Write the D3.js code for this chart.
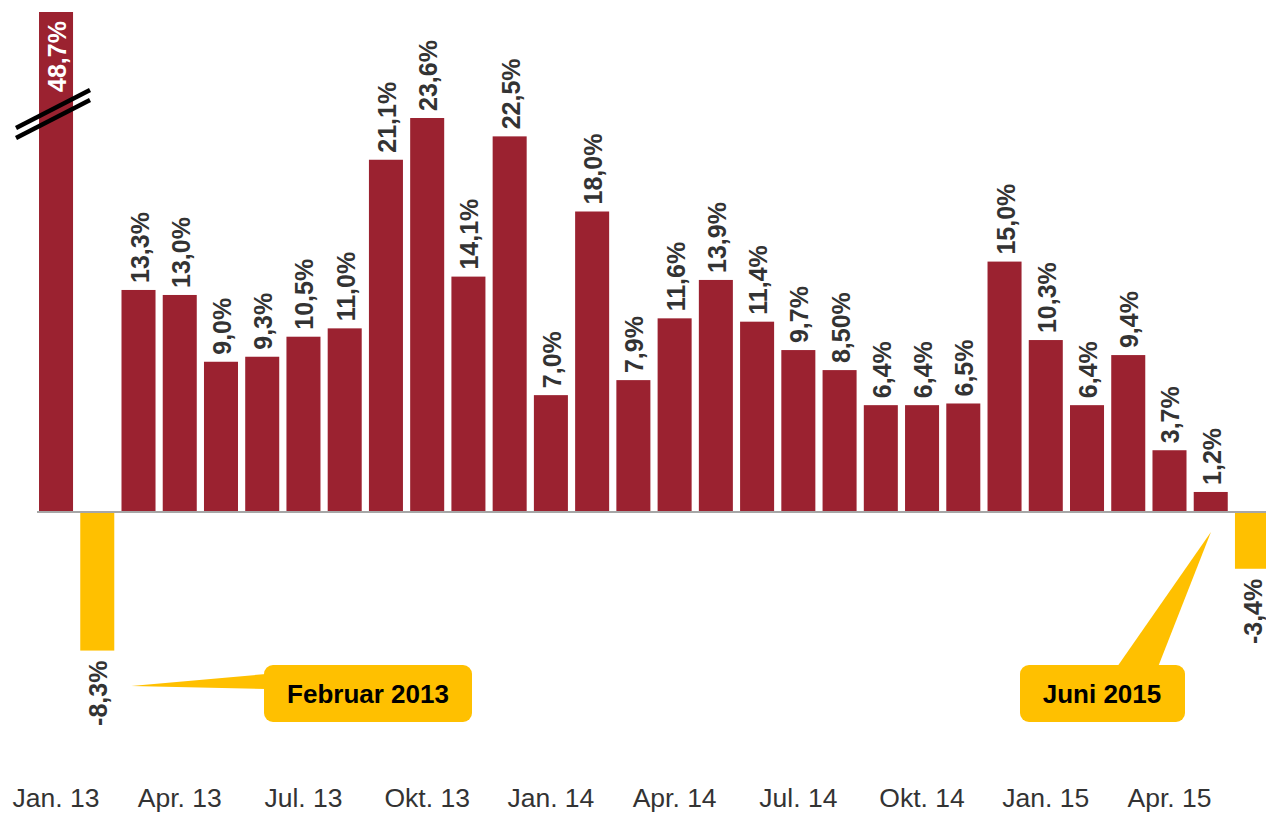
<!DOCTYPE html>
<html>
<head>
<meta charset="utf-8">
<script src="https://cdn.jsdelivr.net/npm/d3@7"></script>
<style>
  html, body { margin: 0; padding: 0; background: #fff; }
  svg { display: block; }
</style>
</head>
<body>
<svg id="chart" width="1266" height="814"></svg>
<script>
const months = ["Jan. 13","Feb. 13","Mär. 13","Apr. 13","Mai 13","Jun. 13","Jul. 13","Aug. 13","Sep. 13","Okt. 13","Nov. 13","Dez. 13",
                "Jan. 14","Feb. 14","Mär. 14","Apr. 14","Mai 14","Jun. 14","Jul. 14","Aug. 14","Sep. 14","Okt. 14","Nov. 14","Dez. 14",
                "Jan. 15","Feb. 15","Mär. 15","Apr. 15","Mai 15","Jun. 15"];
const values = [48.7,-8.3,13.3,13.0,9.0,9.3,10.5,11.0,21.1,23.6,14.1,22.5,
                7.0,18.0,7.9,11.6,13.9,11.4,9.7,8.5,6.4,6.4,6.5,15.0,
                10.3,6.4,9.4,3.7,1.2,-3.4];
const valueLabels = ["48,7%","-8,3%","13,3%","13,0%","9,0%","9,3%","10,5%","11,0%","21,1%","23,6%","14,1%","22,5%",
                     "7,0%","18,0%","7,9%","11,6%","13,9%","11,4%","9,7%","8,50%","6,4%","6,4%","6,5%","15,0%",
                     "10,3%","6,4%","9,4%","3,7%","1,2%","-3,4%"];
const tickLabels = ["Jan. 13","Apr. 13","Jul. 13","Okt. 13","Jan. 14","Apr. 14","Jul. 14","Okt. 14","Jan. 15","Apr. 15"];
const callouts = [
  {text: "Februar 2013", month: "Feb. 13"},
  {text: "Juni 2015", month: "Jun. 15"}
];

const svg = d3.select("#chart");
const RED = "#9B2230", YELLOW = "#FFC000", TXT = "#333333";

const x = d3.scaleBand().domain(months).range([31.8, 1276.2]).paddingInner(0.175).paddingOuter(0.175);
const y = d3.scaleLinear().domain([-10, 29.95]).range([678.95, 12]).clamp(true);
const y0 = y(0);

// bars
svg.append("g").selectAll("rect").data(values).join("rect")
  .attr("x", (d, i) => x(months[i]))
  .attr("width", x.bandwidth())
  .attr("y", d => d >= 0 ? y(d) : y0 + 1)
  .attr("height", d => d >= 0 ? y0 - y(d) : y(d) - y0 - 1)
  .attr("fill", d => d >= 0 ? RED : YELLOW);

// baseline
svg.append("line")
  .attr("x1", 37).attr("x2", 1266).attr("y1", y0).attr("y2", y0)
  .attr("stroke", "#a6a6a6").attr("stroke-width", 2);

// value labels
svg.append("g").selectAll("text").data(values).join("text")
  .attr("transform", (d, i) => {
    const cx = x(months[i]) + x.bandwidth() / 2 + 1;
    let yy;
    if (d > 29.95) yy = 92;
    else if (d >= 0) yy = y(d) - 7;
    else yy = y(d) + 10;
    return `translate(${cx},${yy}) rotate(-90)`;
  })
  .attr("text-anchor", d => d >= 0 ? "start" : "end")
  .attr("dy", "0.36em")
  .attr("font-family", "Liberation Sans, Arial, sans-serif")
  .attr("font-weight", "bold")
  .attr("font-size", 25)
  .attr("fill", d => d > 29.95 ? "#ffffff" : TXT)
  .text((d, i) => valueLabels[i]);

// break marks on the clipped bar
const bx = x(months[0]);
[0, 10].forEach(off => {
  svg.append("line")
    .attr("x1", bx - 23).attr("y1", 128 + off)
    .attr("x2", bx + 51).attr("y2", 90 + off)
    .attr("stroke", "#000").attr("stroke-width", 4.5);
});

// x axis labels
svg.append("g").selectAll("text").data(tickLabels).join("text")
  .attr("x", d => x(d) + x.bandwidth() / 2)
  .attr("y", 807)
  .attr("text-anchor", "middle")
  .attr("font-family", "Liberation Sans, Arial, sans-serif")
  .attr("font-size", 26.5)
  .attr("fill", TXT)
  .text(d => d);

// callouts
function roundedBox(g, x0, y0b, w, h) {
  g.append("rect").attr("x", x0).attr("y", y0b).attr("width", w).attr("height", h)
    .attr("rx", 9).attr("ry", 9).attr("fill", YELLOW);
}
// Februar 2013
{
  const g = svg.append("g");
  const tipX = x("Feb. 13") + x.bandwidth() / 2 + 34, tipY = 686;
  g.append("path").attr("d", `M${tipX},${tipY} L266,674 L266,689 Z`).attr("fill", YELLOW);
  roundedBox(g, 264, 665, 208, 57);
  g.append("text").attr("x", 368).attr("y", 703).attr("text-anchor", "middle")
    .attr("font-family", "Liberation Sans, Arial, sans-serif").attr("font-weight", "bold")
    .attr("font-size", 26).attr("fill", "#000").text(callouts[0].text);
}
// Juni 2015
{
  const g = svg.append("g");
  const tipX = x("Jun. 15") - 24, tipY = 532;
  g.append("path").attr("d", `M${tipX},${tipY} L1117,667 L1158,667 Z`).attr("fill", YELLOW);
  roundedBox(g, 1020, 665, 165, 57);
  g.append("text").attr("x", 1102).attr("y", 703).attr("text-anchor", "middle")
    .attr("font-family", "Liberation Sans, Arial, sans-serif").attr("font-weight", "bold")
    .attr("font-size", 26).attr("fill", "#000").text(callouts[1].text);
}
</script>
</body>
</html>
